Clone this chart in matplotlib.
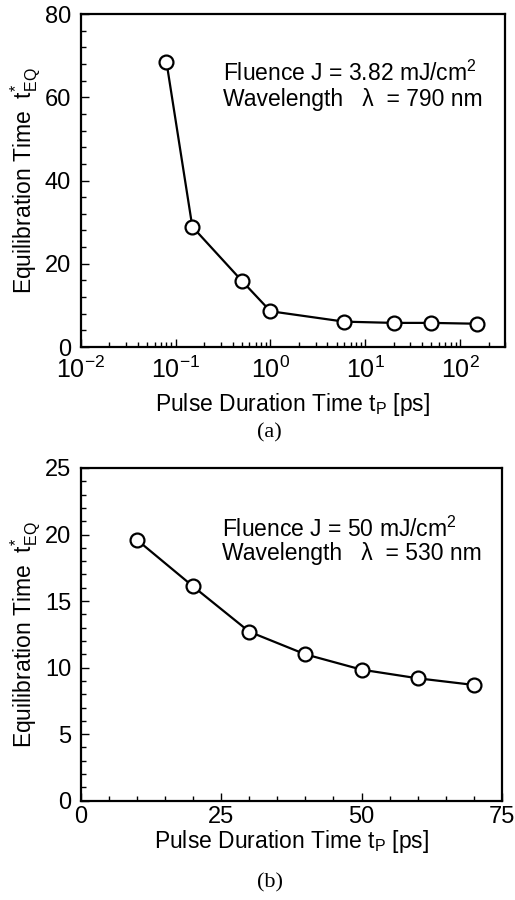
import matplotlib
matplotlib.use("Agg")
import matplotlib.pyplot as plt
from matplotlib.ticker import MultipleLocator, LogLocator, NullFormatter

plt.rcParams['font.family'] = ['Liberation Sans', 'DejaVu Sans']
plt.rcParams['mathtext.fontset'] = 'custom'
plt.rcParams['mathtext.rm'] = 'Liberation Sans'
plt.rcParams['mathtext.it'] = 'Liberation Sans:italic'
plt.rcParams['mathtext.sf'] = 'Liberation Sans'

# panel (a): 790 nm, 3.82 mJ/cm2
pulse_a = [0.08, 0.15, 0.5, 1.0, 6.0, 20.0, 50.0, 150.0]
teq_a = [68.5, 28.9, 15.9, 8.6, 6.1, 5.8, 5.8, 5.6]

# panel (b): 530 nm, 50 mJ/cm2
pulse_b = [10, 20, 30, 40, 50, 60, 70]
teq_b = [19.6, 16.1, 12.7, 11.0, 9.85, 9.2, 8.7]

ylabel = r"Equilibration Time  $\mathregular{t}^{*}_{\mathregular{EQ}}$"
xlabel = r"Pulse Duration Time $\mathregular{t_P}$ [ps]"

fig = plt.figure(figsize=(5.15, 9), dpi=100)
ax1 = fig.add_axes([0.157, 0.6144, 0.824, 0.370])
ax2 = fig.add_axes([0.157, 0.1103, 0.8175, 0.3697])

style = dict(color="black", lw=1.6, marker="o", markersize=10,
             markerfacecolor="white", markeredgecolor="black", markeredgewidth=1.6)

ax1.plot(pulse_a, teq_a, **style)
ax1.set_xscale("log")
ax1.set_xlim(0.01, 300)
ax1.set_ylim(0, 80)
ax1.yaxis.set_major_locator(MultipleLocator(20))
ax1.yaxis.set_minor_locator(MultipleLocator(4))
ax1.xaxis.set_major_locator(LogLocator(base=10, numticks=10))
ax1.xaxis.set_minor_locator(LogLocator(base=10, subs=range(2, 10), numticks=20))
ax1.xaxis.set_minor_formatter(NullFormatter())
ax1.text(0.335, 0.80, "Fluence J = 3.82 mJ/cm$^2$", transform=ax1.transAxes,
         fontsize=16.5, va="baseline")
ax1.text(0.335, 0.724, "Wavelength   λ  = 790 nm", transform=ax1.transAxes,
         fontsize=16.5, va="baseline")

ax2.plot(pulse_b, teq_b, **style)
ax2.set_xlim(0, 75)
ax2.set_ylim(0, 25)
ax2.xaxis.set_major_locator(MultipleLocator(25))
ax2.xaxis.set_minor_locator(MultipleLocator(5))
ax2.yaxis.set_major_locator(MultipleLocator(5))
ax2.yaxis.set_minor_locator(MultipleLocator(1))
ax2.text(0.335, 0.793, "Fluence J = 50 mJ/cm$^2$", transform=ax2.transAxes,
         fontsize=16.5, va="baseline")
ax2.text(0.335, 0.723, "Wavelength   λ  = 530 nm", transform=ax2.transAxes,
         fontsize=16.5, va="baseline")

for ax in (ax1, ax2):
    for s in ax.spines.values():
        s.set_linewidth(1.6)
    ax.tick_params(which="both", direction="in", top=False, right=False,
                   labelsize=17, width=1.0)
    ax.tick_params(which="major", length=6)
    ax.tick_params(which="minor", length=3.5)
    ax.tick_params(axis="y", pad=7)
    ax.set_ylabel(ylabel, fontsize=16.5, labelpad=1)

ax1.tick_params(axis="x", labelsize=18, pad=7)
ax2.tick_params(axis="x", pad=4)
ax1.set_xlabel(xlabel, fontsize=16.5, labelpad=6)
ax2.set_xlabel(xlabel, fontsize=16.5, labelpad=0)

fig.text(0.524, 1 - 433 / 900, "(a)", ha="center", va="center",
         family="Liberation Serif", fontsize=16)
fig.text(0.524, 1 - 883 / 900, "(b)", ha="center", va="center",
         family="Liberation Serif", fontsize=16)

plt.savefig("out.png", dpi=100)
